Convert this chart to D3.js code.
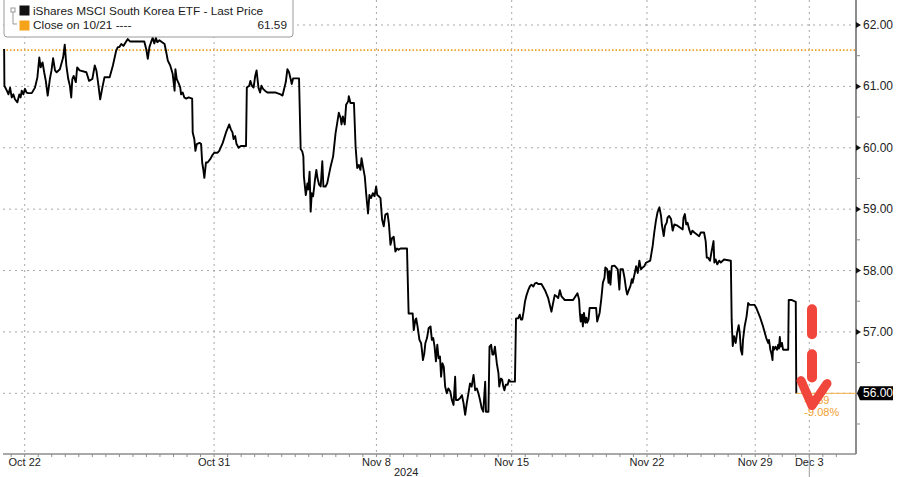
<!DOCTYPE html>
<html>
<head>
<meta charset="utf-8">
<script src="https://cdn.jsdelivr.net/npm/d3@7"></script>
<style>
  body { margin: 0; background: #fff; }
  svg { display: block; }
</style>
</head>
<body>
<div id="chart"></div>
<script>

// trading-day position (Oct 21 = 0, Oct 22 = 1, ... Dec 3 = 30)
var days = [
    0.24, 0.25, 0.34, 0.40, 0.46, 0.52, 0.58, 0.64, 0.73, 0.80, 0.85, 0.89, 0.95,
    1.01, 1.07, 1.13, 1.26, 1.38, 1.47, 1.54, 1.59, 1.66, 1.72, 1.78, 1.85, 1.93, 1.99,
    2.05, 2.12, 2.18, 2.30, 2.42, 2.48, 2.54, 2.61, 2.67, 2.72, 2.76, 2.81, 2.89, 2.94,
    3.03, 3.28, 3.38, 3.50, 3.59, 3.65, 3.71, 3.79, 3.87, 3.95,
    4.14, 4.26, 4.38, 4.44, 4.50, 4.57, 4.65, 4.75, 4.81, 4.90,
    5.42, 5.49, 5.55, 5.61, 5.67, 5.73, 5.79, 5.85, 5.90, 5.98,
    6.08, 6.17, 6.23, 6.29, 6.38, 6.47, 6.54, 6.57, 6.62, 6.70, 6.75, 6.78, 6.84, 6.90, 6.97,
    7.06, 7.19, 7.21, 7.27, 7.31, 7.36, 7.46, 7.52, 7.56, 7.60, 7.64, 7.70, 7.76, 7.85, 7.95,
    8.01, 8.13, 8.19, 8.32, 8.44, 8.56, 8.62, 8.68, 8.72, 8.78, 8.83, 8.91, 8.99,
    9.18, 9.21, 9.30, 9.34, 9.40, 9.46, 9.52, 9.57, 9.64, 9.70, 9.75, 9.81, 9.88, 9.97,
    10.28, 10.46, 10.53, 10.59, 10.65, 10.71, 10.77, 10.83, 10.87, 10.92,
    11.14, 11.20, 11.26, 11.30, 11.32, 11.39, 11.45, 11.48, 11.53, 11.57, 11.61, 11.66, 11.73,
    11.78, 11.82, 11.88, 11.94,
    12.00, 12.04, 12.12, 12.18, 12.31, 12.40, 12.49, 12.55, 12.61, 12.68, 12.71, 12.76, 12.83,
    12.88, 12.96, 12.98,
    13.04, 13.17, 13.23, 13.29, 13.35, 13.41, 13.45, 13.50, 13.57, 13.63, 13.69, 13.74, 13.80,
    13.87, 13.93, 13.99,
    14.03, 14.09, 14.15, 14.21, 14.27, 14.33, 14.41, 14.46, 14.52, 14.58, 14.64, 14.70, 14.76,
    14.82, 14.89,
    15.13, 15.19, 15.34, 15.38, 15.44, 15.47, 15.52, 15.59, 15.65, 15.68, 15.72, 15.77, 15.81,
    15.87, 15.93,
    16.00, 16.05, 16.10, 16.15, 16.20, 16.25, 16.30, 16.35, 16.39, 16.44, 16.49, 16.54, 16.60,
    16.66, 16.73, 16.79, 16.85, 16.91, 16.94,
    17.01, 17.09, 17.16, 17.22, 17.28, 17.34, 17.40, 17.46, 17.52, 17.59, 17.65, 17.71, 17.77,
    17.83, 17.89, 17.95,
    18.02, 18.05, 18.14, 18.18, 18.24, 18.29, 18.33, 18.38, 18.45, 18.51, 18.54, 18.60, 18.65,
    18.69, 18.73, 18.78, 18.85, 18.90, 18.95,
    19.12, 19.16, 19.24, 19.30, 19.34, 19.39, 19.44, 19.49, 19.55, 19.61, 19.67, 19.73, 19.80,
    19.86, 19.92, 19.98,
    20.10, 20.23, 20.35, 20.47, 20.53, 20.59, 20.66, 20.72, 20.78, 20.84, 20.90, 20.96,
    21.27, 21.43, 21.49, 21.52, 21.55, 21.60, 21.63, 21.67, 21.72, 21.76, 21.79, 21.84, 21.88,
    22.12, 22.16, 22.25, 22.31, 22.37, 22.43, 22.46, 22.53, 22.58, 22.61, 22.65, 22.70, 22.80,
    22.86, 22.92, 22.98,
    23.02, 23.11, 23.17, 23.23, 23.27, 23.31, 23.39, 23.44, 23.47, 23.54, 23.60, 23.66, 23.72,
    23.78, 23.84, 23.90, 23.97,
    24.03, 24.12, 24.21, 24.27, 24.33, 24.39, 24.46, 24.52, 24.55, 24.62, 24.67, 24.73, 24.76,
    24.82, 24.89, 24.95,
    25.01, 25.13, 25.32, 25.35, 25.40, 25.45, 25.50, 25.56, 25.62, 25.68, 25.75, 25.93, 25.99,
    26.11, 26.17, 26.21, 26.26, 26.33, 26.38, 26.46, 26.49, 26.54, 26.60, 26.67, 26.73, 26.85,
    27.10, 27.13, 27.17, 27.22, 27.28, 27.33, 27.39, 27.43, 27.47, 27.52, 27.55, 27.61, 27.68,
    27.74, 27.80, 27.98,
    28.04, 28.17, 28.29, 28.41, 28.48, 28.51, 28.56, 28.60, 28.64, 28.66, 28.70, 28.75, 28.81,
    28.85, 28.88, 28.91, 28.94, 28.99,
    29.03, 29.22, 29.24, 29.34, 29.50, 29.52
];

var prices = [
    61.61, 61.01, 60.93, 60.87, 60.98, 60.82, 60.87, 60.79, 60.74, 60.87, 60.82, 60.93, 60.87,
    60.96, 60.90, 60.89, 60.89, 60.98, 61.15, 61.47, 61.31, 61.39, 61.23, 61.09, 60.85, 61.12, 61.26,
    61.46, 61.26, 61.23, 61.28, 61.47, 61.68, 61.34, 61.12, 61.01, 60.82, 61.12, 61.17, 61.07, 61.31,
    61.26, 61.23, 61.09, 61.12, 61.34, 61.26, 61.07, 60.79, 60.98, 61.15,
    61.15, 61.34, 61.58, 61.64, 61.64, 61.69, 61.66, 61.73, 61.77, 61.73,
    61.73, 61.61, 61.45, 61.64, 61.72, 61.79, 61.70, 61.79, 61.72, 61.75,
    61.72, 61.69, 61.56, 61.42, 61.34, 61.20, 60.93, 61.28, 61.12, 61.04, 60.98, 60.87, 60.90, 60.82, 60.80,
    60.82, 60.80, 60.25, 60.14, 59.95, 60.06, 60.08, 60.06, 59.76, 59.65, 59.51, 59.76, 59.76, 59.81, 59.89,
    59.92, 59.92, 59.95, 60.08, 60.25, 60.38, 60.30, 60.25, 60.14, 60.19, 60.06, 60.00, 60.03,
    60.03, 60.98, 61.01, 61.09, 61.01, 60.98, 61.17, 61.26, 60.98, 60.90, 61.01, 60.96, 60.93, 60.90,
    60.90, 60.87, 60.85, 60.96, 61.07, 61.28, 61.23, 61.12, 61.04, 61.13,
    61.13, 59.98, 59.94, 59.86, 59.53, 59.23, 59.42, 59.32, 59.61, 58.96, 59.26, 59.21, 59.48,
    59.64, 59.51, 59.40, 59.37,
    59.78, 59.37, 59.37, 59.42, 59.70, 59.86, 60.24, 60.40, 60.57, 60.48, 60.38, 60.51, 60.38,
    60.70, 60.76, 60.84,
    60.73, 60.73, 60.02, 59.67, 59.72, 59.64, 59.83, 59.70, 59.53, 59.21, 58.93, 59.23, 59.18,
    59.26, 59.21, 59.37,
    59.23, 59.21, 59.18, 58.83, 58.72, 58.91, 58.93, 58.77, 58.42, 58.53, 58.55, 58.31, 58.36,
    58.34, 58.36,
    58.36, 57.30, 57.30, 57.03, 57.20, 57.22, 57.09, 56.87, 56.82, 56.71, 56.54, 56.65, 56.82,
    56.90, 57.06,
    57.09, 56.87, 56.90, 56.76, 56.52, 56.79, 56.57, 56.60, 56.27, 56.49, 56.43, 56.11, 56.00,
    56.08, 56.03, 55.89, 55.81, 56.27, 55.89,
    55.89, 55.92, 55.97, 55.84, 55.65, 55.84, 56.00, 56.16, 56.11, 56.30, 56.05, 56.08, 56.00,
    55.89, 55.76, 55.70,
    56.19, 55.70, 55.70, 56.76, 56.79, 56.63, 56.63, 56.76, 56.49, 56.33, 56.11, 56.24, 56.22,
    56.11, 56.05, 56.14, 56.14, 56.22, 56.19,
    56.19, 57.22, 57.22, 57.28, 57.20, 57.20, 57.33, 57.49, 57.60, 57.68, 57.74, 57.77, 57.74,
    57.79, 57.80, 57.78,
    57.78, 57.68, 57.55, 57.33, 57.47, 57.60, 57.58, 57.55, 57.68, 57.58, 57.55, 57.52,
    57.52, 57.63, 57.53, 57.31, 57.17, 57.28, 57.09, 57.31, 57.15, 57.23, 57.15, 57.20, 57.39,
    57.39, 57.17, 57.31, 57.53, 57.80, 57.88, 58.05, 58.02, 57.80, 57.99, 57.77, 58.07, 58.08,
    58.05, 58.02, 57.69,
    58.02, 58.02, 57.88, 57.69, 57.61, 57.66, 57.75, 57.86, 57.80, 57.94, 58.07, 57.96, 58.16,
    58.02, 58.05, 58.07, 58.13,
    58.14, 58.16, 58.40, 58.62, 58.81, 58.95, 59.03, 58.89, 58.75, 58.56, 58.73, 58.78, 58.86,
    58.89, 58.84, 58.65,
    58.75, 58.73, 58.67, 58.86, 58.92, 58.75, 58.78, 58.67, 58.59, 58.65, 58.62, 58.56, 58.62,
    58.62, 58.48, 58.21, 58.21, 58.16, 58.29, 58.48, 58.13, 58.18, 58.10, 58.16, 58.13, 58.18,
    58.16, 57.20, 56.77, 56.93, 56.82, 56.98, 57.11, 56.98, 56.71, 56.63, 56.87, 57.09, 57.25,
    57.47, 57.44, 57.44,
    57.39, 57.25, 57.09, 56.90, 56.82, 56.87, 56.71, 56.65, 56.54, 56.76, 56.71, 56.76, 56.71,
    56.79, 56.73, 56.92, 56.76, 56.82,
    56.71, 56.71, 57.52, 57.52, 57.49, 56.00
];

var tickDays = [1, 8, 14, 19, 24, 28, 30];
var tickLabels = ['Oct 22', 'Oct 31', 'Nov 8', 'Nov 15', 'Nov 22', 'Nov 29', 'Dec 3'];
var yearDay = 15.1;
var yearLabel = '2024';

var yTicks = [56, 57, 58, 59, 60, 61, 62];
var yMinor = [55.5, 56.5, 57.5, 58.5, 59.5, 60.5, 61.5];

var refClose = 61.59;
var seriesName = 'iShares MSCI South Korea ETF - Last Price';
var refName = 'Close on 10/21 ----';

// hand-drawn red arrow: [trading day, from price, to price]
var arrowNote = [30.1, 57.45, 55.8];

var width = 900,
    height = 477,
    plotLeft = 3,
    plotRight = 856,
    plotBottom = 454,
    font = '"Liberation Sans", Arial, sans-serif';

var x = d3.scaleLinear().domain([1, 30]).range([24.7, 809.3]),
    y = d3.scaleLinear().domain([56, 62]).range([393.3, 25]);

var svg = d3.select('#chart')
    .append('svg')
    .attr('width', width)
    .attr('height', height);

svg.append('clipPath')
    .attr('id', 'plot-clip')
    .append('rect')
    .attr('x', plotLeft)
    .attr('y', 0)
    .attr('width', plotRight - plotLeft)
    .attr('height', plotBottom);

// grid
svg.append('g')
    .selectAll('line')
    .data(yTicks)
    .enter()
    .append('line')
    .attr('x1', plotLeft)
    .attr('x2', plotRight)
    .attr('y1', (d) => y(d))
    .attr('y2', (d) => y(d))
    .style('stroke', '#a8a8a8')
    .style('stroke-width', 1)
    .style('stroke-dasharray', '2,4');

svg.append('g')
    .selectAll('line')
    .data(tickDays)
    .enter()
    .append('line')
    .attr('x1', (d) => x(d))
    .attr('x2', (d) => x(d))
    .attr('y1', 0)
    .attr('y2', plotBottom)
    .style('stroke', '#a8a8a8')
    .style('stroke-width', 1)
    .style('stroke-dasharray', '2,4');

// close on 10/21 reference
svg.append('line')
    .attr('x1', plotLeft)
    .attr('x2', plotRight)
    .attr('y1', y(refClose))
    .attr('y2', y(refClose))
    .style('stroke', '#f0a020')
    .style('stroke-width', 1.6)
    .style('stroke-dasharray', '1.5,2');

// price line
var points = days.map((d, i) => [d, prices[i]]);
var line = d3.line()
    .x((d) => x(d[0]))
    .y((d) => y(d[1]));

svg.append('path')
    .datum(points)
    .attr('clip-path', 'url(#plot-clip)')
    .attr('d', line)
    .style('fill', 'none')
    .style('stroke', '#000')
    .style('stroke-width', 1.9)
    .style('stroke-linejoin', 'round');

// right axis
svg.append('line')
    .attr('x1', plotRight)
    .attr('x2', plotRight)
    .attr('y1', 0)
    .attr('y2', plotBottom)
    .style('stroke', '#8c8c8c')
    .style('stroke-width', 2);

svg.append('g')
    .selectAll('line')
    .data(yMinor)
    .enter()
    .append('line')
    .attr('x1', plotRight)
    .attr('x2', plotRight + 4)
    .attr('y1', (d) => y(d))
    .attr('y2', (d) => y(d))
    .style('stroke', '#8c8c8c')
    .style('stroke-width', 1);

var last = points[points.length - 1];

var yLabelTicks = yTicks.filter((d) => Math.abs(d - last[1]) > 0.2);

svg.append('g')
    .selectAll('path')
    .data(yLabelTicks)
    .enter()
    .append('path')
    .attr('d', (d) => 'M' + plotRight + ',' + (y(d) - 3) + 'L' + (plotRight + 5) + ',' + y(d) + 'L' + plotRight + ',' + (y(d) + 3) + 'Z')
    .attr('fill', '#111');

svg.append('g')
    .selectAll('text')
    .data(yLabelTicks)
    .enter()
    .append('text')
    .text((d) => d.toFixed(2))
    .attr('x', plotRight + 7)
    .attr('y', (d) => y(d) + 4)
    .attr('font-family', font)
    .attr('font-size', '12px')
    .attr('fill', '#222');

// bottom axis
svg.append('line')
    .attr('x1', plotLeft)
    .attr('x2', plotRight)
    .attr('y1', plotBottom)
    .attr('y2', plotBottom)
    .style('stroke', '#8c8c8c')
    .style('stroke-width', 1.5);

svg.append('g')
    .selectAll('line')
    .data(d3.range(0, 31.5, 0.5))
    .enter()
    .append('line')
    .attr('x1', (d) => x(d))
    .attr('x2', (d) => x(d))
    .attr('y1', plotBottom)
    .attr('y2', plotBottom + 3)
    .style('stroke', '#8c8c8c')
    .style('stroke-width', 1);

svg.append('g')
    .selectAll('text')
    .data(tickDays)
    .enter()
    .append('text')
    .text((d, i) => tickLabels[i])
    .attr('x', (d) => x(d))
    .attr('y', 466)
    .attr('font-family', font)
    .attr('font-size', '11px')
    .attr('fill', '#222')
    .style('text-anchor', 'middle');

svg.append('text')
    .text(yearLabel)
    .attr('x', x(yearDay))
    .attr('y', 476)
    .attr('font-family', font)
    .attr('font-size', '11px')
    .attr('fill', '#222')
    .style('text-anchor', 'middle');

svg.append('line')
    .attr('x1', x(tickDays[tickDays.length - 1]))
    .attr('x2', x(tickDays[tickDays.length - 1]))
    .attr('y1', plotBottom)
    .attr('y2', height)
    .style('stroke', '#9a9a9a')
    .style('stroke-width', 1);

// last price marker and change vs reference
svg.append('line')
    .attr('x1', x(last[0]))
    .attr('x2', plotRight)
    .attr('y1', y(last[1]))
    .attr('y2', y(last[1]))
    .style('stroke', '#f2b040')
    .style('stroke-width', 1);

var tagY = y(last[1]);
svg.append('path')
    .attr('d', 'M' + (plotRight + 1) + ',' + tagY +
        'L' + (plotRight + 4) + ',' + (tagY - 7) + 'L' + 893 + ',' + (tagY - 7) +
        'L' + 893 + ',' + (tagY + 7) + 'L' + (plotRight + 4) + ',' + (tagY + 7) + 'Z')
    .attr('fill', '#000');

svg.append('text')
    .text(last[1].toFixed(2))
    .attr('x', plotRight + 7)
    .attr('y', tagY + 4)
    .attr('font-family', font)
    .attr('font-size', '12px')
    .attr('fill', '#fff');

var change = last[1] - refClose;
svg.append('g')
    .selectAll('text')
    .data([change.toFixed(2), (change / refClose * 100).toFixed(2) + '%'])
    .enter()
    .append('text')
    .text((d) => d)
    .attr('x', x(last[0]) + 8)
    .attr('y', (d, i) => tagY + 11 + i * 12)
    .attr('font-family', font)
    .attr('font-size', '11px')
    .attr('fill', '#f0a030');

// red arrow annotation
var ax = x(arrowNote[0]),
    aTop = y(arrowNote[1]),
    aTip = y(arrowNote[2]);

svg.append('line')
    .attr('x1', ax)
    .attr('x2', ax)
    .attr('y1', aTop + 5)
    .attr('y2', aTip - 28)
    .style('stroke', '#f0463b')
    .style('stroke-width', 10)
    .style('stroke-linecap', 'round')
    .style('stroke-dasharray', '25,20');

svg.append('path')
    .attr('d', 'M' + (ax - 11) + ',' + (aTip - 25) + 'L' + ax + ',' + aTip + 'L' + (ax + 15) + ',' + (aTip - 22))
    .style('fill', 'none')
    .style('stroke', '#f0463b')
    .style('stroke-width', 9)
    .style('stroke-linecap', 'round')
    .style('stroke-linejoin', 'round');

// legend
var legend = svg.append('g');

legend.append('rect')
    .attr('x', 4)
    .attr('y', -4)
    .attr('width', 289)
    .attr('height', 41)
    .attr('rx', 3)
    .attr('fill', '#fff')
    .style('stroke', '#9a9a9a')
    .style('stroke-width', 1);

legend.append('rect')
    .attr('x', 11)
    .attr('y', 8)
    .attr('width', 4)
    .attr('height', 4)
    .attr('fill', 'none')
    .style('stroke', '#999');

legend.append('path')
    .attr('d', 'M13,12V24H17')
    .style('fill', 'none')
    .style('stroke', '#999');

legend.append('rect')
    .attr('x', 19.5)
    .attr('y', 5.5)
    .attr('width', 10)
    .attr('height', 10)
    .attr('fill', '#111');

legend.append('rect')
    .attr('x', 19.5)
    .attr('y', 20.5)
    .attr('width', 10)
    .attr('height', 10)
    .attr('fill', '#f5a31a');

legend.append('text')
    .text(seriesName)
    .attr('x', 33)
    .attr('y', 15)
    .attr('font-family', font)
    .attr('font-size', '11.8px')
    .attr('fill', '#1a1a1a');

legend.append('text')
    .text(refName)
    .attr('x', 33)
    .attr('y', 29)
    .attr('font-family', font)
    .attr('font-size', '11.8px')
    .attr('fill', '#1a1a1a');

legend.append('text')
    .text(refClose.toFixed(2))
    .attr('x', 287)
    .attr('y', 29)
    .attr('font-family', font)
    .attr('font-size', '11.8px')
    .attr('fill', '#1a1a1a')
    .style('text-anchor', 'end');

</script>
</body>
</html>
